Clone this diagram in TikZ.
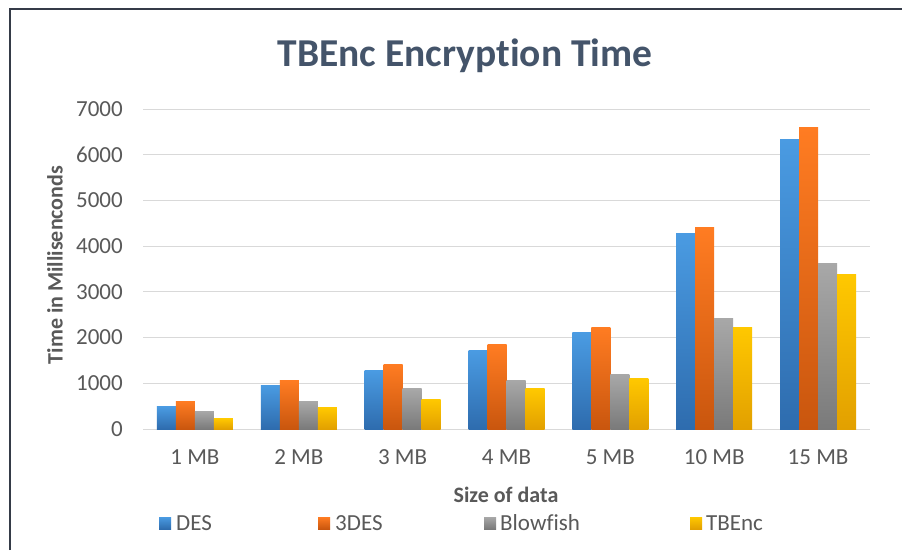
\documentclass[tikz,border=0pt]{standalone}
\usepackage{fontspec}
\setmainfont{Carlito}[Ligatures=NoCommon]
\definecolor{titlecol}{HTML}{44546A}
\definecolor{txtcol}{HTML}{595959}
\definecolor{gridcol}{HTML}{D9D9D9}
\definecolor{framecol}{HTML}{353B48}
\definecolor{desT}{HTML}{4A9BE2}
\definecolor{desB}{HTML}{2E6CAE}
\definecolor{tdesT}{HTML}{FF7C22}
\definecolor{tdesB}{HTML}{C9560E}
\definecolor{bfT}{HTML}{A8A8A8}
\definecolor{bfB}{HTML}{7A7A7A}
\definecolor{tbT}{HTML}{FFC800}
\definecolor{tbB}{HTML}{E2A000}
\tikzset{
  ticklab/.style={anchor=east,inner sep=0pt,text=txtcol,font=\fontsize{23}{26}\selectfont},
  catlab/.style={anchor=base,inner sep=0pt,text=txtcol,font=\fontsize{23}{26}\selectfont},
  axtitle/.style={inner sep=0pt,text=txtcol,font=\bfseries\fontsize{22}{25}\selectfont},
  legtext/.style={anchor=base west,inner sep=0pt,text=txtcol,font=\fontsize{23}{26}\selectfont},
  gridline/.style={draw=gridcol,line width=1pt},
}
\begin{document}
\begin{tikzpicture}[x=1pt,y=1pt]
\useasboundingbox (0,0) rectangle (902,550);
\fill[white] (0,0) rectangle (902,550);
% frame
\draw[framecol,line width=2.5pt] (10,0) -- (10,541) -- (902,541);
% title
\node[anchor=base,inner sep=0pt,text=titlecol,font=\bfseries\fontsize{39.5}{45}\selectfont] (title) at (465,483) {TBEnc Encryption Time};
% grid and tick labels
\foreach \k in {0,...,7}{
  \pgfmathsetmacro{\yy}{121+\k*45.714}
  \draw[gridline] (143,\yy) -- (870,\yy);
  \pgfmathtruncatemacro{\lab}{\k*1000}
  \node[ticklab] (tick\k) at (123,\yy) {\lab};
}
% bars
\def\bw{19}
\foreach \i/\a/\b/\c/\d/\cat in {0/490/600/390/225/1 MB,1/960/1070/600/465/2 MB,2/1280/1420/880/650/3 MB,3/1710/1840/1070/880/4 MB,4/2100/2230/1200/1100/5 MB,5/4270/4400/2420/2230/10 MB,6/6340/6600/3630/3380/15 MB}{
  \pgfmathsetmacro{\cx}{143+(\i+0.5)*103.857}
  \pgfmathsetmacro{\xa}{\cx-38}
  \pgfmathsetmacro{\xb}{\cx-19}
  \pgfmathsetmacro{\xc}{\cx}
  \pgfmathsetmacro{\xd}{\cx+19}
  \pgfmathsetmacro{\ha}{121+\a*0.045714}
  \pgfmathsetmacro{\hb}{121+\b*0.045714}
  \pgfmathsetmacro{\hc}{121+\c*0.045714}
  \pgfmathsetmacro{\hd}{121+\d*0.045714}
  \shade[top color=desT,bottom color=desB] (\xa,121) rectangle ({\xa+\bw},\ha);
  \shade[top color=tdesT,bottom color=tdesB] (\xb,121) rectangle ({\xb+\bw},\hb);
  \shade[top color=bfT,bottom color=bfB] (\xc,121) rectangle ({\xc+\bw},\hc);
  \shade[top color=tbT,bottom color=tbB] (\xd,121) rectangle ({\xd+\bw},\hd);
  \node[catlab] (cat\i) at (\cx,85.5) {\cat};
}
% axis titles
\node[axtitle,rotate=90] (ytitle) at (55,285) {Time in Millisenconds};
\node[axtitle,anchor=base] (xtitle) at (506,48) {Size of data};
% legend
\shade[top color=desT,bottom color=desB] (159,21) rectangle (171,33);
\node[legtext] (lDES) at (176,19.5) {DES};
\shade[top color=tdesT,bottom color=tdesB] (318,21) rectangle (330,33);
\node[legtext] (l3DES) at (335,19.5) {3DES};
\shade[top color=bfT,bottom color=bfB] (484,21) rectangle (496,33);
\node[legtext] (lBF) at (500,19.5) {Blowfish};
\shade[top color=tbT,bottom color=tbB] (690,21) rectangle (702,33);
\node[legtext] (lTB) at (706,19.5) {TBEnc};
\end{tikzpicture}
\end{document}
